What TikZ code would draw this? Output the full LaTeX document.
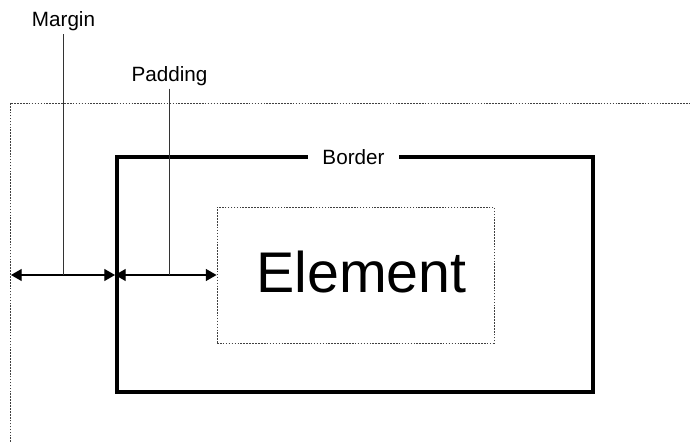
\documentclass[tikz,border=0pt]{standalone}
\usepackage{fontspec}
\setmainfont{Liberation Sans}
\usetikzlibrary{arrows.meta, positioning, calc}
\tikzset{
    boxborder/.style={
        rectangle, draw=black, line width=3pt,
        minimum width=357pt, minimum height=176.25pt,
    },
    boxelement/.style={
        rectangle, draw=black!75, line width=0.7pt,
        dash pattern=on 1.2pt off 1pt,
        minimum width=207.75pt, minimum height=102pt,
        text depth=5.2pt,
        font=\fontsize{43pt}{50pt}\selectfont,
    },
    lbl/.style={
        font=\fontsize{15.5pt}{18pt}\selectfont, inner sep=2.25pt,
    },
    edgeline/.style={draw=black!75, line width=0.7pt, dash pattern=on 1.2pt off 1pt},
    dim/.style={{Triangle[length=8pt,width=9pt]}-{Triangle[length=8pt,width=9pt]}, line width=0.8pt},
    tick/.style={draw=black!80, line width=0.8pt},
}
\begin{document}
\begin{tikzpicture}[x=0.75pt, y=-0.75pt]

    \useasboundingbox (0,0) rectangle (690,442);

    % outer margin edge
    \draw[edgeline] (10,442) |- (690,103);

    \node[boxborder] (border) at (355,275) {};
    \node[boxelement] (element) at (355.5,275) {\hspace*{9pt}Element};
    \node[lbl, fill=white, inner xsep=10.9pt] (borderlbl) at (353.5,157.5) {Border};

    \coordinate (edge) at (11,275);

    \node[lbl] (margin) at (63.5,21.5) {Margin};
    \node[lbl] (padding) at (169.5,75.8) {Padding};

    \draw[dim] (edge) -- (border.west);
    \draw[dim] (border.west) -- (element.west);

    \draw[tick] (margin.south) -- (margin.south |- edge);
    \draw[tick] (padding.south) -- (padding.south |- edge);

\end{tikzpicture}
\end{document}
